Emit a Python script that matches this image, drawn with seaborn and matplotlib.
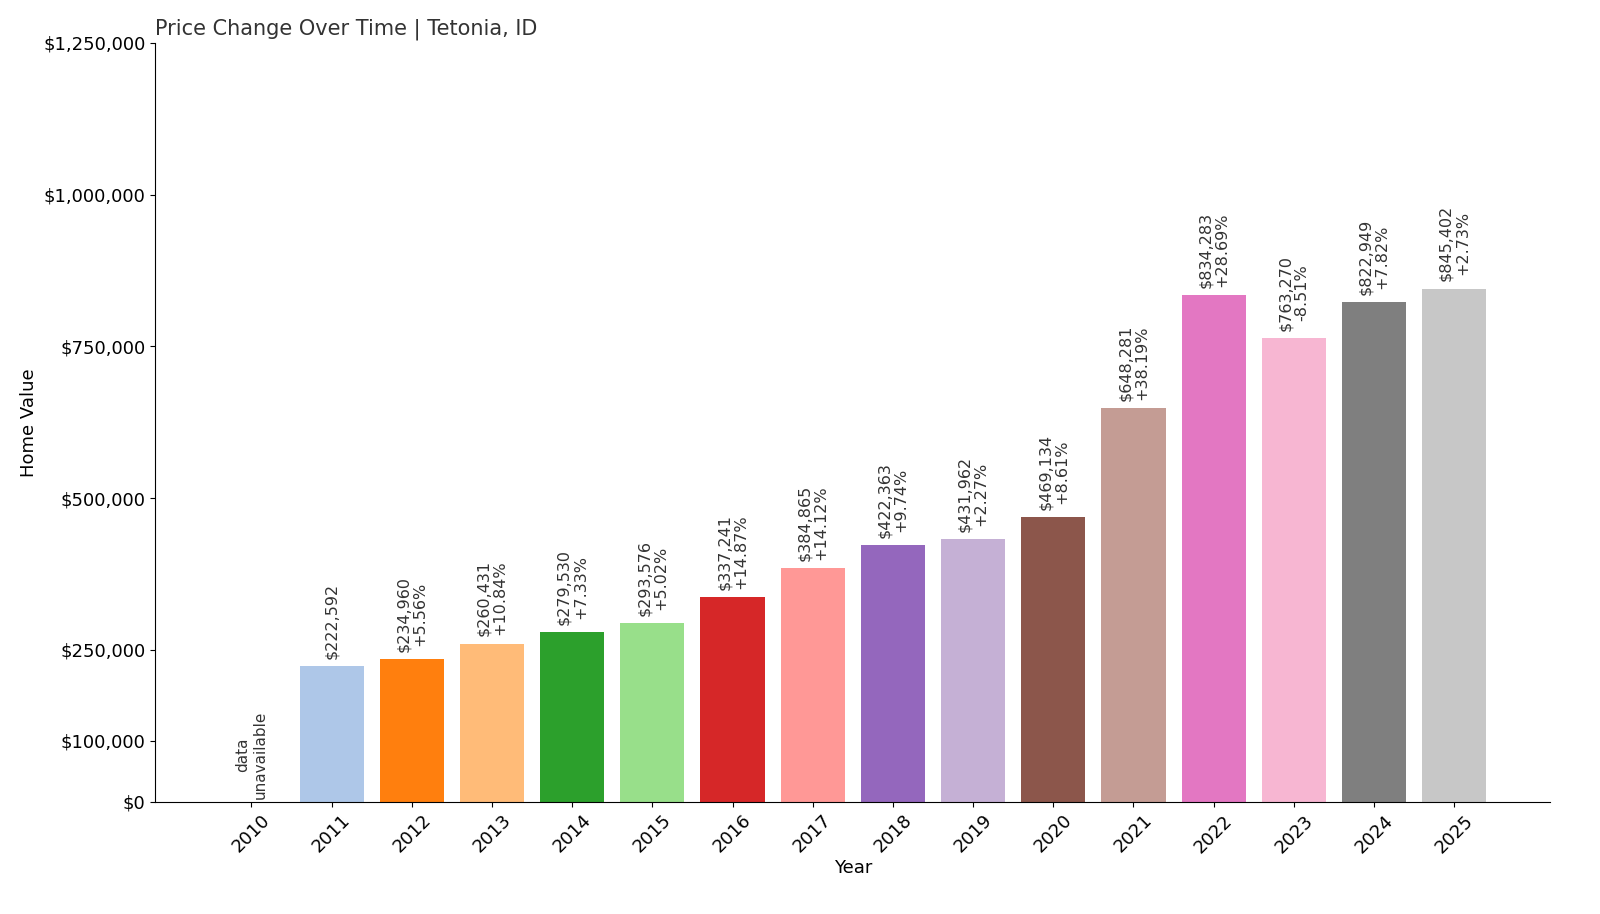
import matplotlib
matplotlib.use("Agg")
import matplotlib.pyplot as plt
import seaborn as sns
import pandas as pd

years = [str(y) for y in range(2010, 2026)]
values = [None, 222592, 234960, 260431, 279530, 293576, 337241, 384865, 422363,
          431962, 469134, 648281, 834283, 763270, 822949, 845402]
changes = [None, None, "+5.56%", "+10.84%", "+7.33%", "+5.02%", "+14.87%", "+14.12%",
           "+9.74%", "+2.27%", "+8.61%", "+38.19%", "+28.69%", "-8.51%", "+7.82%", "+2.73%"]
yticks = [0, 100000, 250000, 500000, 750000, 1000000, 1250000]

df = pd.DataFrame({"Year": years, "Value": [v if v is not None else 0 for v in values]})
colors = sns.color_palette("tab20", 20)[:len(years)]

fig = plt.figure(figsize=(16, 9.14), dpi=100)
ax = fig.add_axes([0.097, 0.123, 0.872, 0.83])
sns.barplot(data=df, x="Year", y="Value", hue="Year", palette=colors, legend=False,
            width=0.8, saturation=1, ax=ax)

for i, v in enumerate(values):
    if v is None:
        ax.text(i, 5000, "data\nunavailable", rotation=90, ha="center", va="bottom",
                fontsize=11, color="#333333")
        continue
    label = f"${v:,.0f}"
    if changes[i]:
        label += "\n" + changes[i]
    ax.text(i, v + 12000, label, rotation=90, ha="center", va="bottom",
            fontsize=11.5, color="#333333", linespacing=1.1)

ax.set_xlim(-1.2, 16.2)
ax.set_ylim(0, 1250000)
ax.set_yticks(yticks)
ax.set_yticklabels([f"${t:,.0f}" for t in yticks], fontsize=13)
ax.tick_params(axis="x", labelrotation=45, labelsize=13)
ax.set_xlabel("Year", fontsize=13, labelpad=2)
ax.set_ylabel("Home Value", fontsize=13)
ax.set_title("Price Change Over Time | Tetonia, ID", loc="left", fontsize=15, color="#333333")
sns.despine(ax=ax)
fig.savefig("out.png")
